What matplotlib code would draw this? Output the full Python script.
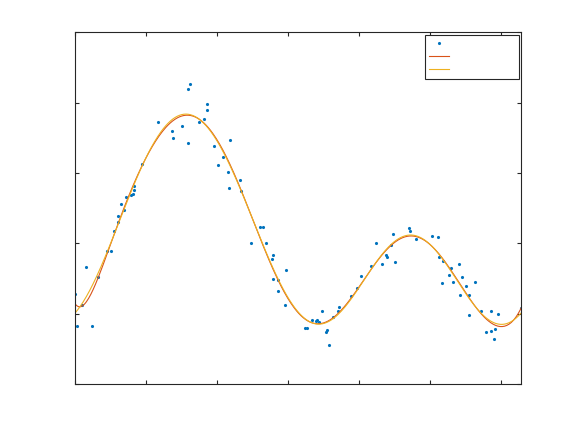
import numpy as np
import matplotlib
matplotlib.use('Agg')
import matplotlib.pyplot as plt

# scatter data
x_data = [0.00, 0.02, 0.09, 0.15, 0.24, 0.32, 0.45, 0.50, 0.55, 0.60,
          0.60, 0.65, 0.69, 0.71, 0.79, 0.82, 0.83, 0.83, 0.94, 1.16,
          1.36, 1.37, 1.50, 1.59, 1.59, 1.61, 1.74, 1.82, 1.85, 1.86,
          1.95, 2.01, 2.08, 2.15, 2.16, 2.18, 2.32, 2.33, 2.48, 2.60,
          2.64, 2.68, 2.77, 2.78, 2.78, 2.85, 2.86, 2.95, 2.97, 3.23,
          3.27, 3.33, 3.39, 3.41, 3.43, 3.48, 3.53, 3.55, 3.58, 3.63,
          3.70, 3.72, 3.89, 3.97, 4.03, 4.16, 4.24, 4.32, 4.38, 4.39,
          4.45, 4.47, 4.51, 4.70, 4.72, 4.80, 5.02, 5.11, 5.12, 5.16,
          5.18, 5.26, 5.29, 5.32, 5.40, 5.42, 5.45, 5.50, 5.55, 5.55,
          5.63, 5.72, 5.78, 5.86, 5.86, 5.90, 5.91, 5.96, 6.28]
y_data = [0.28, -0.17, 0.12, 0.67, -0.17, 0.52, 0.89, 0.89, 1.18, 1.31,
          1.39, 1.56, 1.48, 1.66, 1.69, 1.70, 1.76, 1.82, 2.13, 2.73,
          2.60, 2.50, 2.67, 2.43, 3.19, 3.26, 2.72, 2.77, 2.90, 2.98,
          2.39, 2.11, 2.23, 2.01, 1.79, 2.47, 1.90, 1.75, 1.01, 1.24,
          1.23, 1.01, 0.78, 0.83, 0.49, 0.33, 0.48, 0.13, 0.62, -0.20,
          -0.21, -0.09, -0.11, -0.09, -0.12, 0.04, -0.26, -0.23, -0.44, -0.05,
          0.04, 0.10, 0.25, 0.36, 0.53, 0.68, 1.00, 0.71, 0.83, 0.81,
          0.98, 1.14, 0.74, 1.22, 1.17, 1.06, 1.11, 1.09, 0.80, 0.44,
          0.75, 0.55, 0.65, 0.45, 0.70, 0.26, 0.52, 0.39, -0.02, 0.26,
          0.45, 0.04, -0.26, -0.25, 0.04, -0.36, -0.22, 0.00, 0.08]

x_data = np.array(x_data)
y_data = np.array(y_data)
x_fit = np.linspace(0, 2 * np.pi, 400)


def fourier_fit(x, y, xs, order):
    # least squares fit of a fourier series with period 2*pi
    def basis(t):
        cols = [np.ones_like(t)]
        for k in range(1, order + 1):
            cols += [np.cos(k * t), np.sin(k * t)]
        return np.array(cols).T
    coef = np.linalg.lstsq(basis(x), y, rcond=None)[0]
    return basis(xs) @ coef


y_red = np.polyval(np.polyfit(x_data, y_data, 10), x_fit)
y_yel = fourier_fit(x_data, y_data, x_fit, 3)

fig = plt.figure(figsize=(5.76, 4.32), dpi=100)
ax = fig.add_axes([0.1307, 0.111, 0.7743, 0.814])

ax.plot(x_data, y_data, '.', color='#0072BD', markersize=2.5, label='   ')
ax.plot(x_fit, y_red, color='#D95319', lw=0.8, label='   ')
ax.plot(x_fit, y_yel, color='#EDB120', lw=0.8, label='   ')

ax.set_xlim(0, 2 * np.pi)
ax.set_ylim(-1, 4)
ax.set_xticks(range(0, 7))
ax.set_yticks(range(-1, 5))
ax.tick_params(direction='in', length=3, width=0.8, color='#262626',
               top=True, right=True, labelbottom=False, labelleft=False)
for s in ax.spines.values():
    s.set_linewidth(0.8)
    s.set_color('#262626')

leg = ax.legend(loc='upper right', fontsize=8, frameon=True, fancybox=False,
                edgecolor='#262626', framealpha=1, borderaxespad=0.2,
                handlelength=1.8, labelspacing=0.3,
                handletextpad=5.0, borderpad=0.35)
leg.get_frame().set_linewidth(0.8)

fig.savefig('out.png', dpi=100)
